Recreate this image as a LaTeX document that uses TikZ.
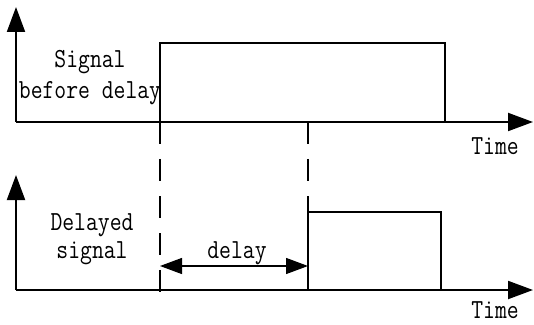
\documentclass[tikz,border=0pt]{standalone}
\usepackage{fontspec}
\usetikzlibrary{arrows.meta}
\newcommand\tallt[1]{\scalebox{1}[1.2]{#1}}
\begin{document}
\begin{tikzpicture}[x=1pt,y=1pt,
  axis/.style={line width=2pt,-{Triangle[length=25pt,width=18pt]}},
  pulse/.style={line width=1.3pt},
  guide/.style={line width=1.3pt,dash pattern=on 22pt off 15pt},
  dim/.style={line width=1.3pt,{Triangle[length=22pt,width=16pt]}-{Triangle[length=22pt,width=16pt]}},
  lbl/.style={font=\ttfamily\fontsize{23}{28}\selectfont,inner sep=0pt,align=center}]
\useasboundingbox (0,0) rectangle (534,324);
% top axes
\coordinate (O1) at (16,202);
\coordinate (Y1) at (16,317);
\coordinate (X1) at (533,202);
\draw[axis] (O1) -- (Y1);
\draw[axis] (O1) -- (X1);
% top pulse
\coordinate (A1) at (160,202);
\coordinate (A2) at (160,281);
\coordinate (A3) at (445,281);
\coordinate (A4) at (445,202);
\draw[pulse] (A1) -- (A2) -- (A3) -- (A4);
% bottom axes
\coordinate (O2) at (16,34);
\coordinate (Y2) at (16,149);
\coordinate (X2) at (533,34);
\draw[axis] (O2) -- (Y2);
\draw[axis] (O2) -- (X2);
% bottom pulse
\coordinate (B1) at (308,34);
\coordinate (B2) at (308,112);
\coordinate (B3) at (441,112);
\coordinate (B4) at (441,34);
\draw[pulse] (B1) -- (B2) -- (B3) -- (B4);
% guides
\coordinate (G1) at (160,202);
\coordinate (G1e) at (160,27);
\coordinate (G2) at (308,202);
\draw[guide] (G1) -- (G1e);
\draw[guide] (G2) -- (B2);
% delay arrow
\coordinate (D1) at (160,58);
\coordinate (D2) at (308,58);
\draw[dim] (D1) -- (D2);
\node[lbl] (dl) at (237,71) {\tallt{delay}};
% labels
\node[lbl] (s1) at (90,262) {\tallt{Signal}};
\node[lbl] (s2) at (90,231) {\tallt{before delay}};
\node[lbl] (d1) at (92,99) {\tallt{Delayed}};
\node[lbl] (d2) at (92,71) {\tallt{signal}};
\node[lbl] (t1) at (495,178) {\tallt{Time}};
\node[lbl] (t2) at (495,14) {\tallt{Time}};
\end{tikzpicture}
\end{document}
